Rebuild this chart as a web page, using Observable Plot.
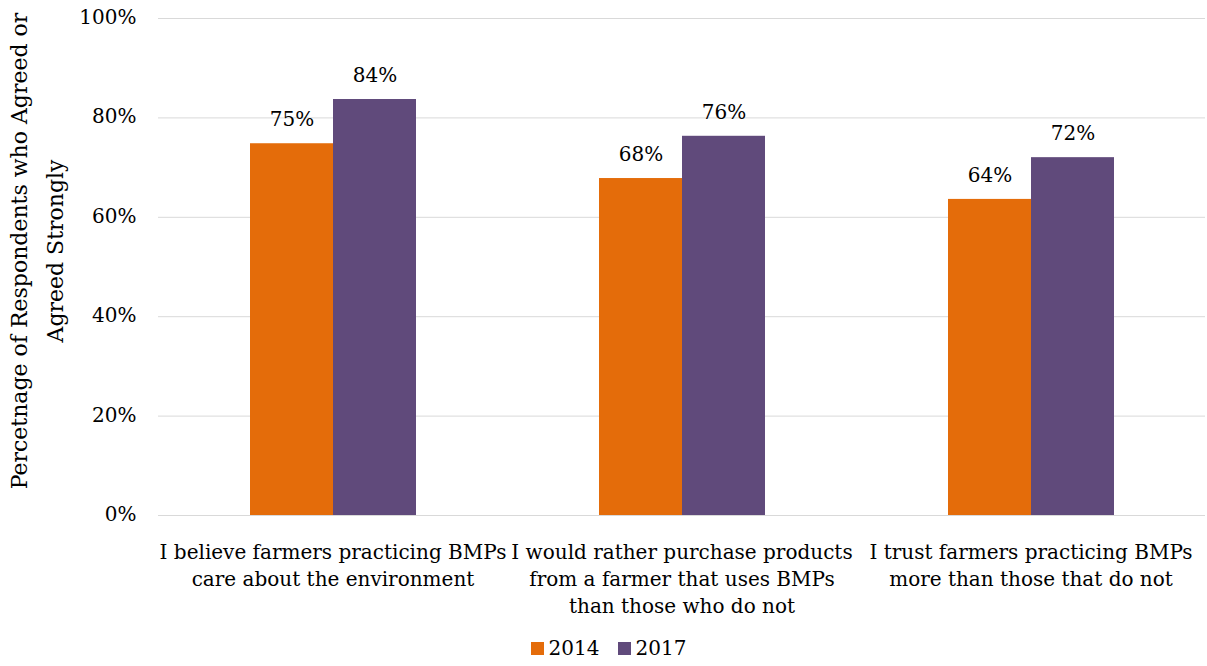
<!DOCTYPE html>
<html><head><meta charset="utf-8">
<script src="https://cdn.jsdelivr.net/npm/d3@7"></script>
<script src="https://cdn.jsdelivr.net/npm/@observablehq/plot@0.6"></script>
<style>
body{margin:0;background:#fff;font-family:"DejaVu Serif",serif;}
#legend{height:36px;display:flex;justify-content:center;align-items:center;gap:18px;font-size:20px;color:#000;padding-left:10px;box-sizing:border-box;}
.sw{display:inline-flex;align-items:center;gap:5px;}
.sq{width:13px;height:13px;display:inline-block;}
</style></head><body><div id="chart"></div><div id="legend"></div>
<script>
const statements = [
  "I believe farmers practicing BMPs\ncare about the environment",
  "I would rather purchase products\nfrom a farmer that uses BMPs\nthan those who do not",
  "I trust farmers practicing BMPs\nmore than those that do not"
];
const years = ["2014", "2017"];
const values2014 = [74.8, 67.8, 63.6];
const values2017 = [83.7, 76.3, 72.0];
const yTicks = [0, 20, 40, 60, 80, 100];
const colors = ["#E46C0A", "#604A7B"];
const yLabel = "Percetnage of Respondents who Agreed or\nAgreed Strongly";

const data = statements.flatMap((s, i) => [
  {statement: s, year: years[0], value: values2014[i]},
  {statement: s, year: years[1], value: values2017[i]}
]);

const W = 1207, H = 630;
const font = "'DejaVu Serif', serif";
const chart = Plot.plot({
  width: W, height: H,
  marginLeft: 157, marginRight: 2, marginTop: 18, marginBottom: H - 515,
  style: {fontFamily: font, fontSize: "20px", color: "#000", background: "#fff", overflow: "visible"},
  fx: {domain: statements, padding: 0, label: null},
  x: {domain: years, paddingInner: 0, paddingOuter: 1.09, axis: null},
  y: {domain: [0, 100], label: null},
  color: {domain: years, range: colors},
  marks: [
    Plot.gridY(yTicks, {stroke: "#d9d9d9", strokeOpacity: 1, strokeWidth: 1}),
    Plot.barY(data, {fx: "statement", x: "year", y: "value", fill: "year"}),
    Plot.text(data, {fx: "statement", x: "year", y: "value", text: d => Math.round(d.value) + "%", dy: -24, fontSize: 20, fill: "#000"}),
    Plot.axisY(yTicks, {tickFormat: d => d + "%", tickSize: 0, tickPadding: 22, dy: -1, fontSize: 20, label: null}),
    Plot.text([{statement: statements[0], label: yLabel}], {
      fx: "statement", text: "label", frameAnchor: "left", rotate: -90,
      textAnchor: "middle", lineAnchor: "top", lineHeight: 1.6, fontSize: 22, fill: "#000",
      dx: -156, dy: -16
    }),
    Plot.axisFx({anchor: "bottom", tickSize: 0, tickPadding: 24, fontSize: 20, lineHeight: 1.35, label: null})
  ]
});
document.getElementById("chart").appendChild(chart);

const legend = document.getElementById("legend");
years.forEach((y, i) => {
  const s = document.createElement("span");
  s.className = "sw";
  s.innerHTML = `<span class="sq" style="background:${colors[i]}"></span><span>${y}</span>`;
  legend.appendChild(s);
});
</script></body></html>
